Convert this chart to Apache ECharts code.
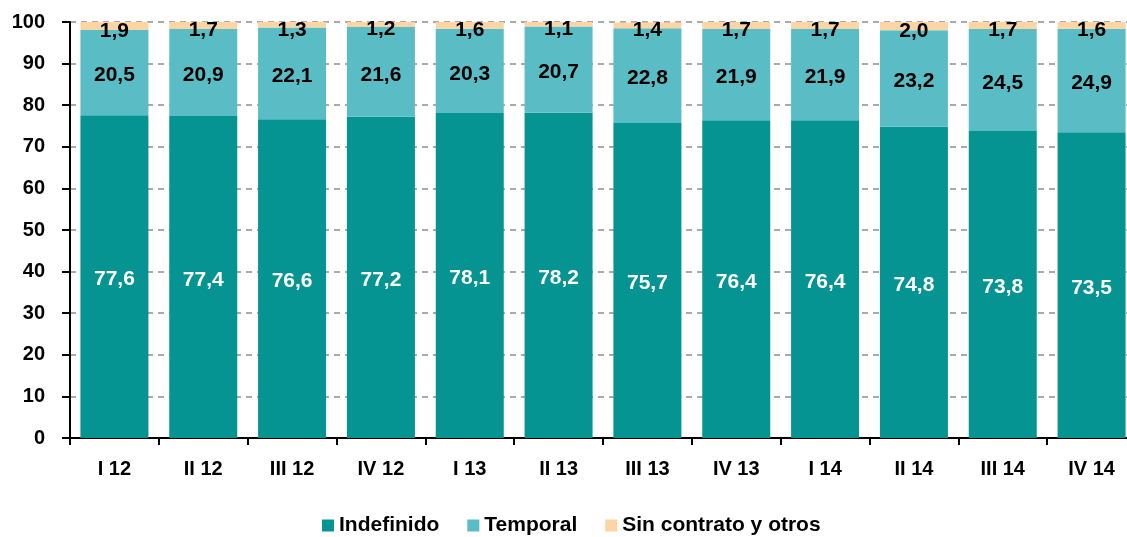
<!DOCTYPE html>
<html><head><meta charset="utf-8">
<script src="https://cdn.jsdelivr.net/npm/echarts@6/dist/echarts.min.js"></script>
<style>html,body{margin:0;padding:0;background:#fff;overflow:hidden}#c{width:1136px;height:537px}</style>
</head><body><div id="c"></div>
<script>
const categories = ['I 12','II 12','III 12','IV 12','I 13','II 13','III 13','IV 13','I 14','II 14','III 14','IV 14'];
const indefinido = [77.6,77.4,76.6,77.2,78.1,78.2,75.7,76.4,76.4,74.8,73.8,73.5];
const temporal = [20.5,20.9,22.1,21.6,20.3,20.7,22.8,21.9,21.9,23.2,24.5,24.9];
const sinContrato = [1.9,1.7,1.3,1.2,1.6,1.1,1.4,1.7,1.7,2.0,1.7,1.6];
const yTicks = [0,10,20,30,40,50,60,70,80,90,100];

const font = "'Liberation Sans', Arial, Helvetica, sans-serif";
const fmt = p => p.value.toFixed(1).replace('.', ',');
const chart = echarts.init(document.getElementById('c'));
chart.setOption({
  animation: false,
  textStyle: {fontFamily: font},
  grid: {left: 70, right: 0, top: 22, height: 416, containLabel: false},
  legend: {
    left: 317, top: 510, itemWidth: 12, itemHeight: 12, itemGap: 28,
    icon: 'rect',
    textStyle: {fontFamily: font, fontWeight: 'bold', fontSize: 21, color: '#000'},
    data: ['Indefinido','Temporal','Sin contrato y otros']
  },
  xAxis: {
    type: 'category', data: categories,
    axisLine: {lineStyle: {color: '#000', width: 2}},
    axisTick: {show: true, length: 7, lineStyle: {color: '#000', width: 2}},
    axisLabel: {fontFamily: font, fontWeight: 'bold', fontSize: 20, color: '#000', margin: 21}
  },
  yAxis: {
    type: 'value', min: yTicks[0], max: yTicks[yTicks.length-1], interval: 10,
    axisLine: {show: true, lineStyle: {color: '#000', width: 2}},
    axisTick: {show: true, length: 8, lineStyle: {color: '#000', width: 2}},
    axisLabel: {fontFamily: font, fontWeight: 'bold', fontSize: 20, color: '#000', margin: 25},
    splitLine: {show: true, lineStyle: {color: '#aaaaaa', type: [6,5], width: 2}}
  },
  series: [
    {name: 'Indefinido', type: 'bar', stack: 's', data: indefinido, barWidth: 68,
     itemStyle: {color: '#059491'},
     label: {show: true, position: 'inside', formatter: fmt, color: '#fff', fontWeight: 'bold', fontSize: 21, fontFamily: font, offset: [0, 3]}},
    {name: 'Temporal', type: 'bar', stack: 's', data: temporal, barWidth: 68,
     itemStyle: {color: '#5abdc5'},
     label: {show: true, position: 'inside', formatter: fmt, color: '#000', fontWeight: 'bold', fontSize: 21, fontFamily: font, offset: [0, 3]}},
    {name: 'Sin contrato y otros', type: 'bar', stack: 's', data: sinContrato, barWidth: 68,
     itemStyle: {color: '#fdd5a5'},
     label: {show: true, position: 'inside', formatter: fmt, color: '#000', fontWeight: 'bold', fontSize: 21, fontFamily: font, offset: [0, 5]}}
  ]
});
</script></body></html>
